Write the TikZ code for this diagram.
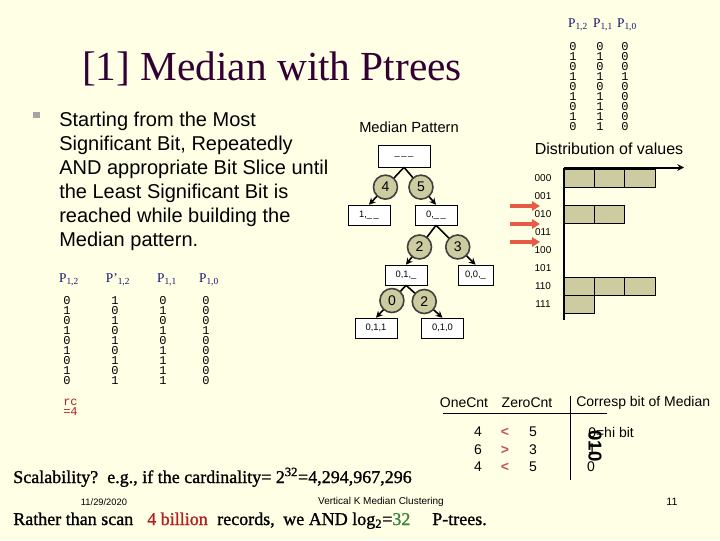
\documentclass[tikz,border=0pt]{standalone}
\usepackage{fontspec}
\setmainfont{Liberation Serif}
\setsansfont{Liberation Sans}
\setmonofont{Liberation Mono}
\newfontfamily\heavyserif[FakeBold=1.2]{Liberation Serif}
\usetikzlibrary{arrows.meta}
\definecolor{bg}{RGB}{255,255,230}
\definecolor{olivec}{RGB}{204,204,160}
\definecolor{redarr}{RGB}{230,90,70}
\definecolor{titlec}{RGB}{51,0,51}
\definecolor{navyc}{RGB}{20,20,110}
\definecolor{darkredc}{RGB}{180,30,30}
\definecolor{grnc}{RGB}{60,130,60}
\definecolor{ltred}{RGB}{200,80,80}
\definecolor{bulgray}{RGB}{165,165,165}
\begin{document}
\begin{tikzpicture}[x=0.75pt,y=-0.75pt,
  tbox/.style={draw, fill=white, font=\sffamily\fontsize{7}{8}\selectfont, minimum width=31.5pt, minimum height=15pt, inner sep=0pt},
  cnt/.style={circle, draw=black!75, fill=olivec, minimum size=18pt, inner sep=0pt, font=\sffamily\fontsize{10.5}{12}\selectfont},
  edge/.style={-{Stealth[length=5pt,width=5pt]}, line width=1.2pt},
  digit/.style={font=\ttfamily\fontsize{9}{10}\selectfont, inner sep=0pt},
  hdr/.style={font=\fontsize{10}{12}\selectfont, text=navyc, inner sep=0pt},
  btext/.style={anchor=base west, font=\sffamily\fontsize{15}{17}\selectfont, inner sep=0pt},
  lab/.style={font=\sffamily\fontsize{10.5}{12}\selectfont, inner sep=0pt},
  small/.style={font=\sffamily\fontsize{7.5}{9}\selectfont, inner sep=0pt},
  cell/.style={draw, fill=olivec, line width=0.5pt},
  redarrow/.style={-{Triangle[length=6pt,width=7pt]}, line width=3pt, draw=redarr},
  cmp/.style={font=\sffamily\bfseries\fontsize{10.5}{12}\selectfont, text=ltred, inner sep=0pt},
  big/.style={anchor=base west, font=\heavyserif\fontsize{13.5}{16}\selectfont, inner sep=0pt}]
\fill[bg] (0,0) rectangle (720,540);
\useasboundingbox (0,0) rectangle (720,540);

% title
\node[anchor=base, font=\fontsize{31}{36}\selectfont, text=titlec, inner sep=0pt] (title) at (272,80) {[1] Median with Ptrees};

% bullet text
\node[fill=bulgray, minimum size=5pt, inner sep=0pt] (bul) at (36.5,115) {};
\node[btext] (b1) at (59,126.5) {Starting from the Most};
\node[btext] (b2) at (59,150.5) {Significant Bit, Repeatedly};
\node[btext] (b3) at (59,174.5) {AND appropriate Bit Slice until};
\node[btext] (b4) at (59,198.5) {the Least Significant Bit is};
\node[btext] (b5) at (59,222.5) {reached while building the};
\node[btext] (b6) at (59,246.5) {Median pattern.};

% top-right bit slices
\node[hdr] (th2) at (578,25) {P\textsubscript{1,2}};
\node[hdr] (th1) at (603,25) {P\textsubscript{1,1}};
\node[hdr] (th0) at (627,25) {P\textsubscript{1,0}};
\foreach \v [count=\k from 0] in {0,1,0,1,0,1,0,1,0}
  \node[digit] (ta\k) at (573,46.7+10*\k) {\v};
\foreach \v [count=\k from 0] in {0,1,0,1,0,1,1,1,1}
  \node[digit] (tb\k) at (600,46.7+10*\k) {\v};
\foreach \v [count=\k from 0] in {0,0,0,1,0,0,0,0,0}
  \node[digit] (tc\k) at (625,46.7+10*\k) {\v};

\node[font=\sffamily\fontsize{12}{14}\selectfont, inner sep=0pt] (dist) at (609,149) {Distribution of values};

% bottom-left bit slices
\node[hdr] (bh2) at (69,280) {P\textsubscript{1,2}};
\node[hdr] (bhp) at (118,280) {P'\textsubscript{1,2}};
\node[hdr] (bh1) at (167,280) {P\textsubscript{1,1}};
\node[hdr] (bh0) at (209,280) {P\textsubscript{1,0}};
\foreach \v [count=\k from 0] in {0,1,0,1,0,1,0,1,0}
  \node[digit] (ba\k) at (67,300.7+10*\k) {\v};
\foreach \v [count=\k from 0] in {1,0,1,0,1,0,1,0,1}
  \node[digit] (bp\k) at (115,300.7+10*\k) {\v};
\foreach \v [count=\k from 0] in {0,1,0,1,0,1,1,1,1}
  \node[digit] (bb\k) at (163,300.7+10*\k) {\v};
\foreach \v [count=\k from 0] in {0,0,0,1,0,0,0,0,0}
  \node[digit] (bc\k) at (206,300.7+10*\k) {\v};
\node[digit, text=darkredc, anchor=west] (rc1) at (63,402) {rc};
\node[digit, text=darkredc, anchor=west] (rc2) at (63,412) {=4};

% median pattern tree
\node[lab, font=\sffamily\fontsize{11}{13}\selectfont] (mp) at (409,127) {Median Pattern};
\node[tbox, minimum width=39pt, minimum height=16.5pt] (root) at (404,156) {\_\,\_\,\_};
\node[tbox] (n1) at (369,215) {1,\_\,\_};
\node[tbox] (n0) at (436,215) {0,\_\,\_};
\node[tbox] (n01) at (406,275) {0,1,\_};
\node[tbox, minimum width=26pt] (n00) at (475.5,275) {0,0,\_};
\node[tbox] (n011) at (376,328) {0,1,1};
\node[tbox] (n010) at (442.5,328) {0,1,0};
\draw[edge] (root.south) -- (n1.north) node[cnt, pos=0.53] {4};
\draw[edge] (root.south) -- (n0.north) node[cnt, pos=0.53] {5};
\draw[edge] (n0.south) -- (n01.north) node[cnt, pos=0.55] {2};
\draw[edge] (n0.south) -- (n00.north) node[cnt, pos=0.55] {3};
\draw[edge] (n01.south) -- (n011.north) node[cnt, pos=0.47] {0};
\draw[edge] (n01.south) -- (n010.north) node[cnt, pos=0.5] {2};

% red arrows
\foreach \i/\yy in {1/206,2/224,3/242} {
  \coordinate (rs\i) at (510,\yy);
  \coordinate (re\i) at (540,\yy);
  \draw[redarrow] (rs\i) -- (re\i);
}

% histogram
\foreach \lab [count=\k from 0] in {000,001,010,011,100,101,110,111}
  \node[small] (h\lab) at (543,178+18*\k) {\lab};
\foreach \r/\n in {0/3,2/2,6/3,7/1}
  \foreach \c in {1,...,\n}
    \draw[cell] (564+30.33*\c-30.33,169+18*\r) rectangle (564+30.33*\c,187+18*\r);
\coordinate (ax0) at (564,167.5);
\coordinate (axx) at (684,167.5);
\coordinate (axy) at (564,320);
\draw[line width=1.5pt] (axy) -- (ax0);
\draw[line width=1.5pt, -{Stealth[length=5pt,width=5pt]}] (ax0) -- (axx);

% count table
\node[lab] (one) at (464,403) {OneCnt};
\node[lab] (zero) at (527,403) {ZeroCnt};
\node[lab, anchor=west] (corr) at (576,403) {Corresp bit of Median};
\draw[line width=0.6pt] (570.7,396) -- (570.7,480);
\draw[line width=0.6pt] (443,413) -- (607,413);
\node[lab] (o1) at (478,432) {4};
\node[cmp] (c1) at (505,432) {<};
\node[lab] (z1) at (533,432) {5};
\node[lab] (o2) at (478,450) {6};
\node[cmp] (c2) at (505,450) {>};
\node[lab] (z2) at (533,450) {3};
\node[lab] (o3) at (478,467) {4};
\node[cmp] (c3) at (505,467) {<};
\node[lab] (z3) at (533,467) {5};
\node[lab, anchor=west] (m1) at (588,432) {0=hi bit};
\node[lab] (m2) at (592,449) {1};
\node[lab] (m3) at (591,467) {0};
\node[rotate=-90, font=\sffamily\bfseries\fontsize{14}{14}\selectfont, inner sep=0pt] (rot) at (595,446) {010};

% bottom text
\node[big] (scal) at (13,483) {Scalability?\ \ e.g., if the cardinality= 2\textsuperscript{32}=4,294,967,296};
\node[small, font=\sffamily\fontsize{7}{8}\selectfont] (date) at (104,502) {11/29/2020};
\node[small] (vk) at (381,502) {Vertical K Median Clustering};
\node[small, font=\sffamily\fontsize{8}{9}\selectfont] (pg) at (672,502) {11};
\node[big] (r1) at (13,525) {Rather than scan};
\node[big, text=darkredc] (r2) at (147,525) {4 billion};
\node[big] (r3) at (217,525) {records,};
\node[big] (r4) at (283,525) {we AND};
\node[big] (r5) at (352,525) {log\textsubscript{2}=\textcolor{grnc}{32}};
\node[big] (r6) at (432,525) {P-trees.};
\end{tikzpicture}
\end{document}
